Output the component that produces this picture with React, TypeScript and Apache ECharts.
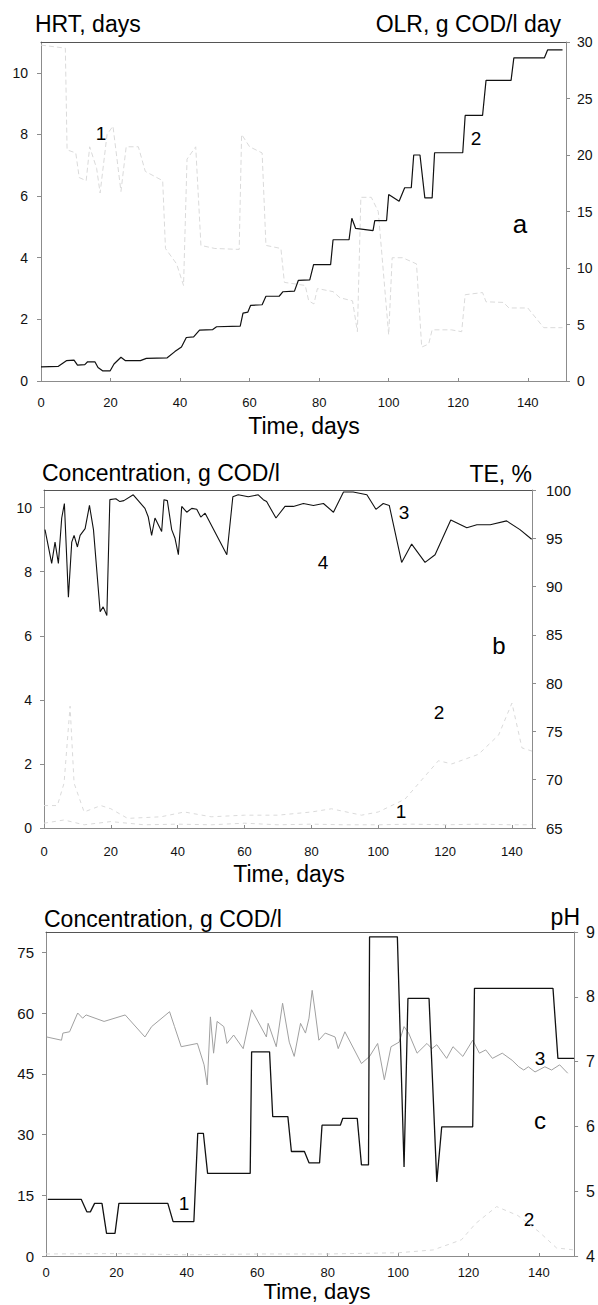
import React, { useEffect, useRef } from "react";
import * as echarts from "echarts";

const FONT = "'Liberation Sans', Arial, Helvetica, sans-serif";

// ---------- panel a ----------
const xTicksA = { min: 0, max: 151, interval: 20 };
const hrtA: [number, number][] = [
  [0, 10.9], [7, 10.8], [7.5, 7.5], [10, 7.4], [11, 6.6], [13, 6.5], [14, 7.6], [16, 6.9], [17, 6.1],
  [19, 8.0], [20.7, 8.27], [23, 6.15], [24.5, 7.6], [28, 7.6], [30, 6.8], [35, 6.5], [35.8, 4.3],
  [39, 3.8], [41, 3.1], [42, 7.2], [44.5, 7.6], [46, 4.4], [50, 4.3], [57, 4.27], [57.7, 8.0],
  [60, 7.6], [63.6, 7.4], [64.7, 4.4], [69, 4.3], [70, 3.2], [76, 3.1], [77, 2.6], [78.5, 2.5],
  [79.5, 3.0], [84, 2.9], [86, 2.7], [89.6, 2.6], [91, 1.6], [92, 5.96], [95, 5.96], [97, 5.5],
  [100, 1.5], [101, 4.0], [104, 4.0], [108, 3.8], [109.5, 1.1], [111.5, 1.2], [112.5, 1.66],
  [118, 1.66], [121, 1.6], [122, 2.8], [127, 2.87], [128, 2.57], [133, 2.55], [134.6, 2.37],
  [140, 2.37], [144.6, 1.73], [150, 1.73],
];
const olrA: [number, number][] = [
  [0, 1.25], [5, 1.3], [7.3, 1.8], [9.5, 1.85], [10.5, 1.4], [12.6, 1.45], [13.4, 1.7], [15.5, 1.7],
  [16.4, 1.2], [17.7, 0.9], [19.9, 0.9], [21, 1.5], [23, 2.1], [24.3, 1.8], [28.6, 1.8], [30.3, 2.0],
  [36.3, 2.05], [38.5, 2.6], [40.4, 3.0], [41.8, 3.85], [43.9, 3.9], [45.6, 4.5], [49.4, 4.55],
  [50.5, 4.8], [57.3, 4.85], [58.1, 6.0], [59.5, 6.1], [60.3, 6.7], [63.6, 6.75], [64.7, 7.5],
  [68.5, 7.5], [69.6, 7.9], [72.9, 7.95], [74, 8.9], [77.3, 8.95], [78.4, 10.3], [83.3, 10.3],
  [84, 12.5], [88.6, 12.5], [89.4, 14.4], [90.5, 13.5], [95.5, 13.3], [96, 14.2], [99.4, 14.2],
  [100, 16.5], [103, 15.9], [104.6, 17.1], [106.5, 17.1], [107.2, 20.0], [109, 20.0], [110.4, 16.2],
  [112.5, 16.2], [113.2, 20.2], [121.3, 20.2], [122, 23.5], [127, 23.5], [128, 26.6], [135.2, 26.6],
  [136, 28.6], [144.8, 28.6], [145.7, 29.3], [150, 29.3],
];

// ---------- panel b ----------
const xTicksB = { min: 0, max: 146, interval: 20 };
const teB: [number, number][] = [
  [0.3, 95.9], [2.3, 92.4], [3.3, 94.6], [4.3, 92.4], [5.3, 97.1], [6.1, 98.6], [7.3, 88.9],
  [8.3, 94.6], [9, 95.3], [10, 94.1], [10.8, 95.3], [12.3, 96.0], [13.6, 98.4], [14.8, 95.9],
  [16.8, 87.4], [17.7, 87.9], [18.8, 87.0], [19.7, 99.0], [21.5, 99.1], [22.7, 98.8], [23.9, 98.9],
  [26.7, 99.5], [30.2, 98.1], [31.2, 97.2], [32.2, 95.3], [33.2, 97.1], [35.2, 95.7], [35.9, 99.0],
  [36.9, 98.9], [38.2, 95.9], [39.2, 95.0], [40.2, 93.3], [41.2, 98.3], [42.7, 97.7], [44.2, 98.1],
  [45.7, 98.0], [46.9, 97.2], [48.2, 97.6], [54.7, 93.3], [56.5, 99.3], [58.1, 99.5], [61.1, 99.3],
  [64.1, 99.5], [65.6, 99.0], [66.6, 98.8], [69.4, 97.1], [72.1, 98.3], [74.6, 98.3], [77.6, 98.6],
  [80.6, 98.4], [83.6, 98.6], [86.6, 97.7], [89.6, 99.8], [92.5, 99.8], [96.6, 99.5], [99.3, 98.0],
  [101.5, 98.6], [103.3, 98.4], [107, 92.5], [110, 94.4], [114, 92.5], [117, 93.3], [121.7, 96.9],
  [126.5, 96.1], [129.5, 96.4], [133.5, 96.4], [138.4, 96.8], [142.4, 95.9], [145.9, 94.9],
];
const effB1: [number, number][] = [
  [0, 0.15], [6, 0.25], [12, 0.1], [20, 0.2], [30, 0.1], [40, 0.12], [50, 0.1], [60, 0.15],
  [70, 0.1], [80, 0.12], [90, 0.1], [100, 0.1], [110, 0.12], [120, 0.1], [130, 0.12], [140, 0.1], [146, 0.1],
];
const effB2: [number, number][] = [
  [0, 0.7], [4, 0.7], [6, 1.4], [7.8, 3.8], [9, 1.4], [12, 0.5], [17, 0.7], [20, 0.6], [25, 0.3],
  [35, 0.35], [42, 0.5], [50, 0.35], [60, 0.4], [70, 0.4], [80, 0.5], [86, 0.6], [95, 0.4],
  [100, 0.5], [108, 0.9], [113, 1.5], [118, 2.1], [122, 2.0], [130, 2.3], [136, 2.9], [140, 3.9],
  [143, 2.5], [146, 2.4],
];

// ---------- panel c ----------
const xTicksC = { min: 0, max: 150, interval: 20 };
const codC: [number, number][] = [
  [0.5, 14.0], [10, 14.0], [11.6, 10.9], [12.6, 10.9], [13.8, 13.0], [15.9, 13.0], [17.2, 5.6],
  [19.6, 5.6], [20.7, 13.0], [34.6, 13.0], [36.1, 8.5], [42, 8.5], [43.1, 30.3], [44.7, 30.3],
  [45.9, 20.4], [58, 20.4], [58.4, 50.4], [63.5, 50.4], [64.4, 34.4], [68.7, 34.4], [69.7, 25.8],
  [73.4, 25.8], [74.7, 23.0], [77.7, 23.0], [78.4, 32.3], [83.6, 32.3], [84.3, 34.0], [88.4, 34.0],
  [89.6, 22.5], [91.6, 22.5], [91.9, 78.8], [99.8, 78.8], [101.7, 22.0], [102.8, 63.6], [108.8, 63.6],
  [111, 18.3], [112.4, 31.9], [121.2, 31.9], [121.7, 66.1], [144, 66.1], [145.4, 48.8], [150, 48.8],
];
const phC: [number, number][] = [
  [0.2, 7.38], [4.4, 7.33], [4.8, 7.44], [6.7, 7.46], [9, 7.75], [10.4, 7.67], [11.4, 7.72],
  [16.5, 7.62], [22.5, 7.72], [28.1, 7.38], [30, 7.54], [35.1, 7.77], [36.5, 7.54], [38.4, 7.23],
  [43, 7.28], [44.9, 6.95], [45.8, 6.64], [46.7, 7.69], [47.6, 7.13], [48.6, 7.62], [50.5, 7.54],
  [51.4, 7.28], [53.3, 7.41], [56, 7.2], [58.4, 7.8], [62.6, 7.38], [63.1, 7.59], [65.4, 7.23],
  [67.2, 7.9], [69.1, 7.3], [70.5, 7.08], [72.3, 7.59], [73.7, 7.44], [74.7, 7.67], [75.6, 8.1],
  [76.5, 7.75], [77.5, 7.33], [79.3, 7.44], [82.1, 7.38], [83, 7.2], [84.9, 7.46], [89.6, 6.97],
  [91.9, 7.08], [94.2, 7.28], [96.1, 6.72], [98, 7.23], [100.3, 7.3], [101.7, 7.54], [103, 7.44],
  [105.4, 7.13], [108.2, 7.28], [109.6, 7.2], [111, 7.26], [113.8, 7.05], [115.6, 7.23], [118.4, 7.08],
  [121.2, 7.33], [123.1, 7.13], [124.9, 7.18], [126.8, 7.05], [129.6, 7.13], [132.4, 7.02],
  [134.3, 6.92], [135.7, 6.87], [137, 6.92], [138.9, 6.84], [141.7, 6.92], [143.6, 6.87],
  [145.9, 6.95], [148.2, 6.82],
];
const effC2: [number, number][] = [
  [0, 0.5], [20, 0.6], [40, 0.3], [60, 0.5], [80, 0.5], [100, 0.8], [110, 1.5], [118, 4],
  [122, 8], [128, 12.2], [134, 10], [140, 6], [145, 2], [150, 1.5],
];

const AXIS = "#8c8c8c";
const FRAME = "#555";
const FAINT = "#dadada";

function bottomX(gridIndex: number, t: { min: number; max: number; interval: number }, margin: number) {
  return {
    type: "value", gridIndex, min: t.min, max: t.max, interval: t.interval, position: "bottom",
    axisLine: { show: true, onZero: false, lineStyle: { color: AXIS, width: 1 } },
    axisTick: { show: true, inside: true, length: 3, lineStyle: { color: AXIS } },
    axisLabel: { fontSize: 13, color: "#111", fontFamily: FONT, margin, showMaxLabel: false },
    splitLine: { show: false },
  };
}
function topX(gridIndex: number, t: { min: number; max: number }) {
  return {
    type: "value", gridIndex, min: t.min, max: t.max, position: "top",
    axisLine: { show: true, onZero: false, lineStyle: { color: FRAME, width: 1 } },
    axisTick: { show: false }, axisLabel: { show: false }, splitLine: { show: false },
  };
}
function yAx(gridIndex: number, position: string, min: number, max: number, interval: number,
  fontSize: number, margin: number, showMax: boolean) {
  return {
    type: "value", gridIndex, position, min, max, interval,
    axisLine: { show: true, onZero: false, lineStyle: { color: AXIS, width: 1 } },
    axisTick: { show: true, length: 4, lineStyle: { color: AXIS } },
    axisLabel: { fontSize, color: "#111", fontFamily: FONT, margin, showMaxLabel: showMax },
    splitLine: { show: false },
  };
}
function line(data: [number, number][], xi: number, yi: number, color: string, width: number, type: any = "solid") {
  return {
    type: "line", data, xAxisIndex: xi, yAxisIndex: yi, symbol: "none", showSymbol: false,
    lineStyle: { color, width, type }, silent: true, z: color === FAINT ? 1 : 3,
  };
}
function txt(text: string, x: number, y: number, size: number, align = "left") {
  return {
    type: "text", x, y, silent: true,
    style: {
      text, fontSize: size, fontFamily: FONT, fill: "#000",
      textAlign: align, textVerticalAlign: "middle", align, verticalAlign: "middle",
    },
  };
}

export default function App() {
  const ref = useRef<HTMLDivElement>(null);
  useEffect(() => {
    document.body.style.margin = "0";
    if (!ref.current) return;
    const chart = echarts.init(ref.current, undefined, { renderer: "svg" });
    chart.setOption({
      animation: false,
      backgroundColor: "#fff",
      grid: [
        { left: 41, top: 42, width: 525, height: 339 },
        { left: 44, top: 490, width: 488, height: 338 },
        { left: 46, top: 932, width: 537, height: 324 },
      ],
      xAxis: [
        bottomX(0, xTicksA, 15), bottomX(1, xTicksB, 17), bottomX(2, xTicksC, 10),
        topX(0, xTicksA), topX(1, xTicksB), topX(2, xTicksC),
      ],
      yAxis: [
        yAx(0, "left", 0, 11, 2, 14, 13, false),
        yAx(0, "right", 0, 30, 5, 14, 11, true),
        yAx(1, "left", 0, 10.55, 2, 14, 12, false),
        yAx(1, "right", 65, 100, 5, 15, 14, true),
        yAx(2, "left", 0, 80, 15, 15, 12, false),
        yAx(2, "right", 4, 9, 1, 16, 12, true),
      ],
      series: [
        line(hrtA, 0, 0, FAINT, 1, [5, 3]),
        line(olrA, 0, 1, "#111", 1.2),
        line(effB1, 1, 2, FAINT, 1, [4, 4]),
        line(effB2, 1, 2, FAINT, 1, [4, 4]),
        line(teB, 1, 3, "#111", 1.1),
        line(effC2, 2, 4, FAINT, 1, [4, 4]),
        line(phC, 2, 5, "#a0a0a0", 1),
        line(codC, 2, 4, "#111", 1.3),
      ],
      graphic: [
        txt("HRT, days", 35, 24, 23),
        txt("OLR, g COD/l day", 561, 24, 23, "right"),
        txt("Time, days", 304, 426, 23, "center"),
        txt("1", 101, 133, 19, "center"),
        txt("2", 476, 138, 19, "center"),
        txt("a", 520, 224, 26, "center"),

        txt("Concentration, g COD/l", 42, 473, 23),
        txt("TE, %", 532, 474, 23, "right"),
        txt("Time, days", 289, 874, 23, "center"),
        txt("3", 404, 512, 19, "center"),
        txt("4", 323, 562, 19, "center"),
        txt("b", 499, 645, 24, "center"),
        txt("2", 439, 712, 19, "center"),
        txt("1", 401, 811, 19, "center"),

        txt("Concentration, g COD/l", 44, 919, 23),
        txt("pH", 580, 917, 23, "right"),
        txt("Time, days", 317, 1291, 22, "center"),
        txt("3", 540, 1058, 19, "center"),
        txt("c", 540, 1120, 24, "center"),
        txt("1", 184, 1203, 19, "center"),
        txt("2", 529, 1219, 19, "center"),
      ],
    });
    return () => chart.dispose();
  }, []);
  return <div ref={ref} style={{ width: 598, height: 1305 }} />;
}
